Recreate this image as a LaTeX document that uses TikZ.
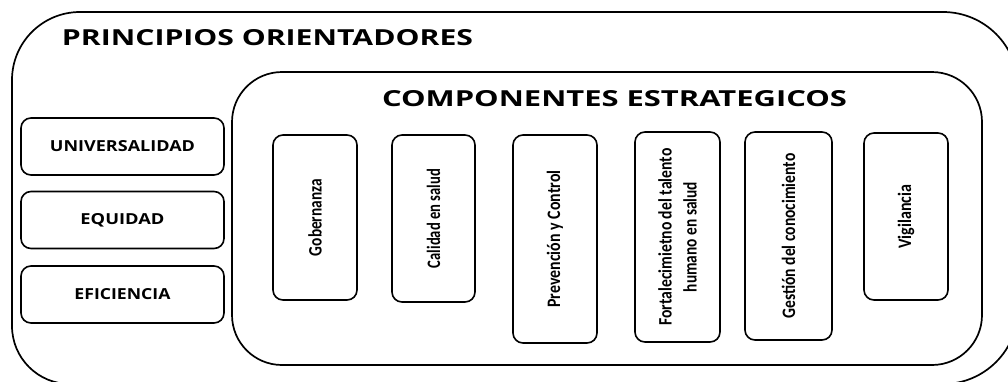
\documentclass[tikz,border=0pt]{standalone}
\usepackage{fontspec}
\setmainfont{Open Sans}
\newfontfamily\titlefont{Open Sans}
\newfontfamily\compfont{Carlito}
\newcommand{\fitw}[2]{\resizebox{#1}{\height}{#2}}
\begin{document}
\begin{tikzpicture}[x=1pt,y=-1pt,
  frame/.style={draw=black, line width=1.7pt},
  principle/.style={draw=black, line width=1.6pt, rounded corners=10pt,
    minimum width=203pt, minimum height=57pt, inner sep=0pt,
    font=\titlefont\bfseries},
  compbox/.style={draw=black, line width=1.6pt, rounded corners=10pt,
    inner sep=0pt, rotate=90, font=\compfont\bfseries\fontsize{19}{25}\selectfont,
    align=center},
  title/.style={inner sep=0pt, anchor=base, font=\titlefont\bfseries}
]
\clip (0,0) rectangle (1008,381);
\fill[white] (0,0) rectangle (1008,381);
% outer frame
\draw[frame] (12,200) [rounded corners=68pt] -- (12,12) [rounded corners=75pt] -- (1018,12) -- (1018,384) [rounded corners=58pt] -- (12,384) -- cycle;
\node[title] (t1) at (267.5,45.5) {\resizebox{411pt}{16pt}{PRINCIPIOS ORIENTADORES}};
% inner frame
\node[frame, rounded corners=50pt, minimum width=750pt, minimum height=293pt, inner sep=0pt] (inner) at (607,218.5) {};
\node[title] (t2) at (614.5,106) {\resizebox{465pt}{16pt}{COMPONENTES ESTRATEGICOS}};
% principles
\node[principle] (u) at (122.5,146.5) {\resizebox{145pt}{11pt}{UNIVERSALIDAD}};
\node[principle] (e) at (122.5,220) {\resizebox{84pt}{11pt}{EQUIDAD}};
\node[principle] (f) at (122.5,294.5) {\resizebox{96pt}{11pt}{EFICIENCIA}};
% components (rotated: minimum width = vertical extent)
\node[compbox, minimum width=165pt, minimum height=84pt] (c1) at (315,217.5) {\fitw{77pt}{Gobernanza}};
\node[compbox, minimum width=167pt, minimum height=83pt] (c2) at (433.5,218.5) {\fitw{99pt}{Calidad en salud}};
\node[compbox, minimum width=208pt, minimum height=84pt] (c3) at (555,239) {\fitw{137pt}{Prevención y Control}};
\node[compbox, minimum width=210pt, minimum height=85pt] (c4) at (677.5,237) {\fitw{177pt}{Fortalecimietno del talento}\\\fitw{110pt}{humano en salud}};
\node[compbox, minimum width=208pt, minimum height=87pt] (c5) at (788.5,236) {\fitw{165pt}{Gestión del conocimiento}};
\node[compbox, minimum width=167pt, minimum height=84pt] (c6) at (906,216.5) {\fitw{64pt}{Vigilancia}};
\end{tikzpicture}
\end{document}
